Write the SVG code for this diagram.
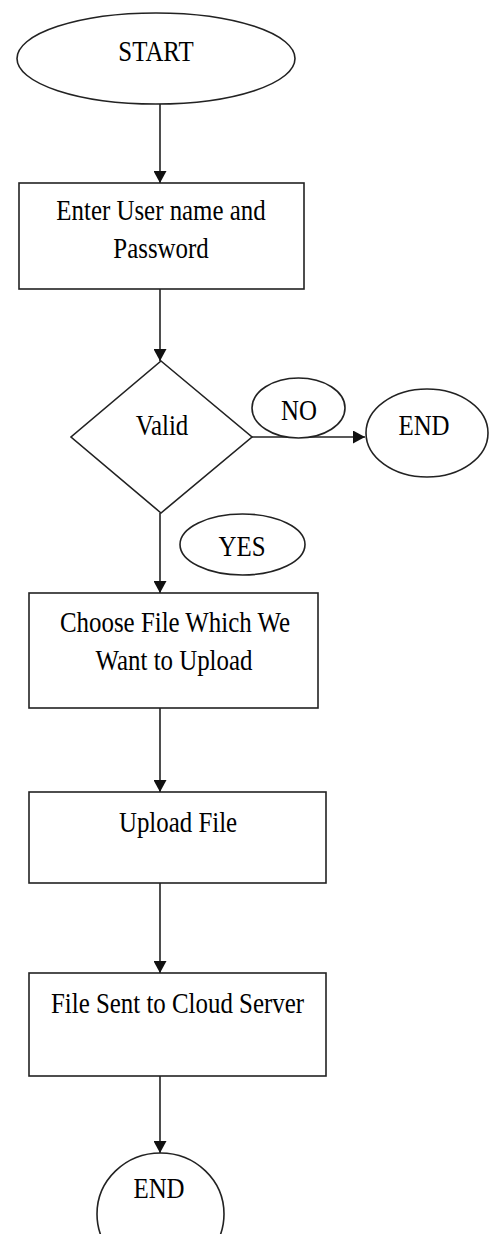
<svg xmlns="http://www.w3.org/2000/svg" width="493" height="1234" viewBox="0 0 493 1234">
<style>
.shape{fill:#fff;stroke:#222;stroke-width:1.6}
.edge{fill:none;stroke:#222;stroke-width:1.6}
.t{font-family:"Liberation Serif","Times New Roman",serif;font-size:30px;fill:#000;text-anchor:middle}
</style>
<defs>
<marker id="arr" viewBox="0 0 12 13" refX="12" refY="6.5" markerWidth="12" markerHeight="13" markerUnits="userSpaceOnUse" orient="auto">
<path d="M0,0 L12,6.5 L0,13 Z" fill="#111"/>
</marker>
</defs>
<rect width="493" height="1234" fill="#fff"/>
<g id="connectors">
<line class="edge" x1="160" y1="104" x2="160" y2="183" marker-end="url(#arr)"/>
<line class="edge" x1="160" y1="289" x2="160" y2="361" marker-end="url(#arr)"/>
<line class="edge" x1="252" y1="437" x2="365" y2="437" marker-end="url(#arr)"/>
<line class="edge" x1="160" y1="513" x2="160" y2="593" marker-end="url(#arr)"/>
<line class="edge" x1="160" y1="708" x2="160" y2="792" marker-end="url(#arr)"/>
<line class="edge" x1="160" y1="883" x2="160" y2="973" marker-end="url(#arr)"/>
<line class="edge" x1="160" y1="1076" x2="160" y2="1153" marker-end="url(#arr)"/>
</g>
<g id="start">
<ellipse class="shape" cx="156" cy="58.5" rx="139" ry="45.5"/>
<text class="t" transform="translate(156,61) scale(0.83,1)">START</text>
</g>
<g id="login">
<rect class="shape" x="19" y="183" width="285" height="106"/>
<text class="t" transform="translate(161,220) scale(0.83,1)">Enter User name and</text>
<text class="t" transform="translate(161,258) scale(0.83,1)">Password</text>
</g>
<g id="valid">
<polygon class="shape" points="161,361 252,437 161,513 71,437"/>
<text class="t" transform="translate(162,435) scale(0.83,1)">Valid</text>
</g>
<g id="no">
<ellipse class="shape" cx="298.5" cy="408" rx="46.5" ry="30"/>
<text class="t" transform="translate(299,420) scale(0.83,1)">NO</text>
</g>
<g id="end1">
<ellipse class="shape" cx="427" cy="433" rx="61" ry="44"/>
<text class="t" transform="translate(424,435) scale(0.83,1)">END</text>
</g>
<g id="yes">
<ellipse class="shape" cx="242.5" cy="544.5" rx="62.5" ry="30.5"/>
<text class="t" transform="translate(242,556) scale(0.83,1)">YES</text>
</g>
<g id="choose">
<rect class="shape" x="29" y="593" width="289" height="115"/>
<text class="t" transform="translate(175,632) scale(0.83,1)">Choose File Which We</text>
<text class="t" transform="translate(174,670) scale(0.83,1)">Want to Upload</text>
</g>
<g id="upload">
<rect class="shape" x="29" y="792" width="297" height="91"/>
<text class="t" transform="translate(178,832) scale(0.83,1)">Upload File</text>
</g>
<g id="sent">
<rect class="shape" x="29" y="973" width="297" height="103"/>
<text class="t" transform="translate(177.5,1013) scale(0.83,1)">File Sent to Cloud Server</text>
</g>
<g id="end2">
<ellipse class="shape" cx="160.5" cy="1214" rx="63.5" ry="61"/>
<text class="t" transform="translate(159,1198) scale(0.83,1)">END</text>
</g>
</svg>
